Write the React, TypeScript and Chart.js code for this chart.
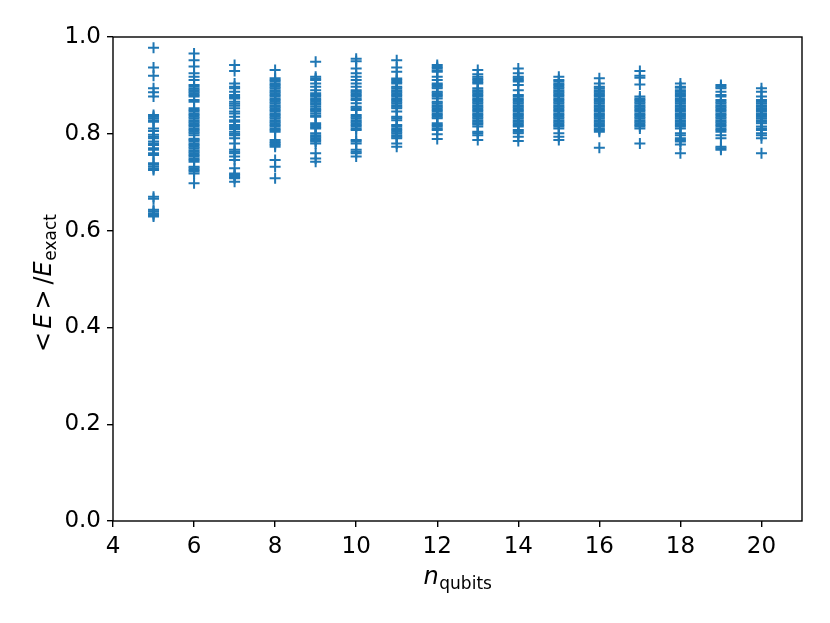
import React, { useEffect, useRef } from "react";
import { Chart, registerables } from "chart.js";

Chart.register(...registerables);

const xTickValues = [4, 6, 8, 10, 12, 14, 16, 18, 20];
const yTickValues = [0, 0.2, 0.4, 0.6, 0.8, 1.0];
const qubits = [5, 6, 7, 8, 9, 10, 11, 12, 13, 14, 15, 16, 17, 18, 19, 20];

const ratios5 = [0.978, 0.937, 0.92, 0.894, 0.886, 0.877, 0.839, 0.835, 0.832, 0.828, 0.825, 0.811, 0.806, 0.798, 0.794, 0.791, 0.784, 0.78, 0.777, 0.77, 0.767, 0.76, 0.756, 0.739, 0.736, 0.732, 0.728, 0.725, 0.67, 0.666, 0.643, 0.64, 0.636, 0.632, 0.629];
const ratios6 = [0.966, 0.952, 0.939, 0.925, 0.918, 0.911, 0.901, 0.897, 0.893, 0.89, 0.887, 0.884, 0.88, 0.877, 0.87, 0.866, 0.853, 0.849, 0.846, 0.842, 0.839, 0.835, 0.832, 0.828, 0.825, 0.822, 0.818, 0.815, 0.811, 0.808, 0.804, 0.801, 0.797, 0.79, 0.787, 0.784, 0.78, 0.777, 0.773, 0.77, 0.766, 0.763, 0.76, 0.756, 0.753, 0.749, 0.746, 0.742, 0.732, 0.729, 0.725, 0.722, 0.718, 0.698];
const ratios7 = [0.942, 0.93, 0.904, 0.897, 0.894, 0.887, 0.88, 0.876, 0.873, 0.866, 0.862, 0.858, 0.853, 0.846, 0.842, 0.835, 0.828, 0.825, 0.818, 0.814, 0.81, 0.804, 0.8, 0.797, 0.791, 0.78, 0.767, 0.763, 0.76, 0.753, 0.746, 0.729, 0.718, 0.715, 0.711, 0.708, 0.701];
const ratios8 = [0.932, 0.915, 0.911, 0.908, 0.904, 0.901, 0.897, 0.894, 0.89, 0.887, 0.884, 0.88, 0.877, 0.873, 0.87, 0.866, 0.863, 0.859, 0.856, 0.853, 0.849, 0.846, 0.842, 0.839, 0.835, 0.832, 0.828, 0.825, 0.822, 0.818, 0.815, 0.811, 0.808, 0.804, 0.787, 0.783, 0.78, 0.777, 0.773, 0.746, 0.732, 0.708];
const ratios9 = [0.949, 0.918, 0.914, 0.911, 0.904, 0.897, 0.89, 0.884, 0.88, 0.877, 0.873, 0.87, 0.866, 0.863, 0.86, 0.856, 0.852, 0.849, 0.846, 0.842, 0.838, 0.835, 0.822, 0.818, 0.814, 0.811, 0.801, 0.797, 0.794, 0.791, 0.787, 0.784, 0.78, 0.76, 0.749, 0.742];
const ratios10 = [0.955, 0.95, 0.935, 0.925, 0.918, 0.911, 0.904, 0.897, 0.89, 0.887, 0.884, 0.88, 0.877, 0.873, 0.87, 0.863, 0.856, 0.853, 0.849, 0.839, 0.835, 0.832, 0.828, 0.825, 0.822, 0.818, 0.815, 0.811, 0.808, 0.787, 0.784, 0.78, 0.767, 0.763, 0.76, 0.753];
const ratios11 = [0.952, 0.937, 0.928, 0.914, 0.911, 0.907, 0.904, 0.897, 0.894, 0.89, 0.887, 0.884, 0.88, 0.877, 0.873, 0.87, 0.866, 0.863, 0.859, 0.856, 0.853, 0.846, 0.835, 0.832, 0.828, 0.818, 0.815, 0.811, 0.808, 0.804, 0.801, 0.797, 0.794, 0.791, 0.78, 0.773];
const ratios12 = [0.942, 0.938, 0.935, 0.931, 0.928, 0.918, 0.911, 0.904, 0.901, 0.897, 0.894, 0.887, 0.884, 0.88, 0.877, 0.873, 0.866, 0.863, 0.859, 0.856, 0.853, 0.849, 0.846, 0.842, 0.839, 0.835, 0.832, 0.822, 0.818, 0.815, 0.811, 0.808, 0.799, 0.789];
const ratios13 = [0.932, 0.923, 0.918, 0.914, 0.911, 0.907, 0.904, 0.894, 0.89, 0.887, 0.884, 0.88, 0.877, 0.873, 0.87, 0.866, 0.863, 0.859, 0.856, 0.853, 0.849, 0.846, 0.842, 0.839, 0.835, 0.832, 0.828, 0.825, 0.822, 0.819, 0.815, 0.804, 0.801, 0.797, 0.787];
const ratios14 = [0.935, 0.925, 0.918, 0.915, 0.911, 0.908, 0.901, 0.89, 0.88, 0.877, 0.873, 0.87, 0.866, 0.863, 0.859, 0.856, 0.853, 0.849, 0.846, 0.842, 0.839, 0.835, 0.832, 0.828, 0.825, 0.822, 0.818, 0.815, 0.808, 0.804, 0.801, 0.794, 0.785];
const ratios15 = [0.918, 0.911, 0.908, 0.904, 0.901, 0.897, 0.894, 0.89, 0.887, 0.884, 0.88, 0.877, 0.873, 0.87, 0.866, 0.863, 0.859, 0.856, 0.853, 0.849, 0.846, 0.842, 0.839, 0.835, 0.832, 0.828, 0.825, 0.822, 0.818, 0.815, 0.811, 0.801, 0.794, 0.787];
const ratios16 = [0.915, 0.904, 0.897, 0.894, 0.89, 0.887, 0.884, 0.88, 0.877, 0.873, 0.87, 0.866, 0.863, 0.859, 0.856, 0.853, 0.849, 0.846, 0.842, 0.839, 0.835, 0.832, 0.828, 0.825, 0.822, 0.818, 0.815, 0.811, 0.808, 0.804, 0.771];
const ratios17 = [0.93, 0.92, 0.916, 0.902, 0.877, 0.873, 0.87, 0.866, 0.863, 0.859, 0.856, 0.853, 0.849, 0.846, 0.842, 0.839, 0.835, 0.832, 0.828, 0.825, 0.822, 0.818, 0.815, 0.811, 0.78];
const ratios18 = [0.904, 0.897, 0.895, 0.89, 0.887, 0.884, 0.88, 0.877, 0.873, 0.87, 0.866, 0.863, 0.859, 0.856, 0.853, 0.849, 0.846, 0.842, 0.839, 0.835, 0.832, 0.828, 0.825, 0.822, 0.818, 0.815, 0.811, 0.801, 0.797, 0.791, 0.787, 0.784, 0.778, 0.76];
const ratios19 = [0.901, 0.897, 0.894, 0.887, 0.88, 0.877, 0.87, 0.866, 0.863, 0.859, 0.856, 0.853, 0.849, 0.846, 0.842, 0.839, 0.835, 0.832, 0.828, 0.825, 0.822, 0.818, 0.815, 0.811, 0.808, 0.804, 0.797, 0.791, 0.773, 0.77, 0.767];
const ratios20 = [0.894, 0.887, 0.877, 0.87, 0.866, 0.863, 0.859, 0.856, 0.853, 0.849, 0.846, 0.842, 0.839, 0.835, 0.832, 0.828, 0.825, 0.822, 0.815, 0.811, 0.808, 0.801, 0.797, 0.791, 0.76];

const ratiosByQubits = [ratios5, ratios6, ratios7, ratios8, ratios9, ratios10, ratios11, ratios12, ratios13, ratios14, ratios15, ratios16, ratios17, ratios18, ratios19, ratios20];

const FONT = "'DejaVu Sans', sans-serif";
const BLUE = "#1f77b4";

const framePlugin = {
  id: "frameAndTitles",
  afterDraw(chart: any) {
    const { ctx, chartArea } = chart;
    const { left, right, top, bottom } = chartArea;
    ctx.save();
    ctx.strokeStyle = "#000";
    ctx.lineWidth = 1.4;
    ctx.strokeRect(left, top, right - left, bottom - top);

    // x title: n_qubits
    const cx = (left + right) / 2;
    ctx.fillStyle = "#000";
    ctx.textBaseline = "alphabetic";
    ctx.textAlign = "left";
    ctx.font = `italic 24px ${FONT}`;
    const wN = ctx.measureText("n").width;
    ctx.font = `17px ${FONT}`;
    const wSub = ctx.measureText("qubits").width;
    const x0 = cx - (wN + wSub) / 2;
    ctx.font = `italic 24px ${FONT}`;
    ctx.fillText("n", x0, 584);
    ctx.font = `17px ${FONT}`;
    ctx.fillText("qubits", x0 + wN + 0.5, 589);

    // y title: <E> /E_exact
    const cy = 283;
    ctx.translate(51, cy);
    ctx.rotate(-Math.PI / 2);
    const segs: [string, string, number, number][] = [
      ["<", `24px ${FONT}`, 0, 3],
      ["E", `italic 24px ${FONT}`, 0, 4],
      [">", `24px ${FONT}`, 0, 5],
      ["/", `24px ${FONT}`, 0, 0],
      ["E", `italic 24px ${FONT}`, 0, 0.5],
      ["exact", `17px ${FONT}`, 5, 0],
    ];
    let total = 0;
    for (const [t, f, , g] of segs) {
      ctx.font = f;
      total += ctx.measureText(t).width + g;
    }
    let x = -total / 2;
    for (const [t, f, dy, g] of segs) {
      ctx.font = f;
      ctx.fillText(t, x, dy);
      x += ctx.measureText(t).width + g;
    }
    ctx.restore();
  },
};

export default function App() {
  const canvasRef = useRef<HTMLCanvasElement | null>(null);

  useEffect(() => {
    if (!canvasRef.current) return;
    const points = qubits.flatMap((n, i) => ratiosByQubits[i].map((v) => ({ x: n, y: v })));
    const chart = new Chart(canvasRef.current, {
      type: "scatter",
      data: {
        datasets: [
          {
            data: points,
            pointStyle: "cross",
            pointRadius: 5.5,
            pointHoverRadius: 5.5,
            pointBorderWidth: 2,
            borderColor: BLUE,
            backgroundColor: BLUE,
          },
        ],
      },
      options: {
        animation: false,
        responsive: false,
        devicePixelRatio: 1,
        layout: { padding: { top: 37, right: 28, left: 0, bottom: 0 } },
        plugins: { legend: { display: false }, tooltip: { enabled: false } },
        scales: {
          x: {
            type: "linear",
            min: 4,
            max: 21,
            afterBuildTicks: (scale: any) => {
              scale.ticks = xTickValues.map((v) => ({ value: v }));
            },
            afterFit: (scale: any) => {
              scale.height = 102;
            },
            border: { display: false },
            grid: { drawOnChartArea: false, drawTicks: true, tickLength: 6, color: "#000", lineWidth: 1.4 },
            ticks: { color: "#000", font: { family: FONT, size: 23 }, padding: 6, maxRotation: 0, autoSkip: false, callback: (v: any) => String(v) },
          },
          y: {
            type: "linear",
            min: 0,
            max: 1,
            afterBuildTicks: (scale: any) => {
              scale.ticks = yTickValues.map((v) => ({ value: v }));
            },
            afterFit: (scale: any) => {
              scale.width = 113;
            },
            border: { display: false },
            grid: { drawOnChartArea: false, drawTicks: true, tickLength: 6, color: "#000", lineWidth: 1.4 },
            ticks: { color: "#000", font: { family: FONT, size: 23 }, padding: 6, autoSkip: false, callback: (v: any) => Number(v).toFixed(1) },
          },
        },
      },
      plugins: [framePlugin],
    });
    return () => chart.destroy();
  }, []);

  return (
    <div style={{ position: "absolute", left: 0, top: 0, width: 830, height: 623, background: "#fff" }}>
      <canvas ref={canvasRef} width={830} height={623} />
    </div>
  );
}
